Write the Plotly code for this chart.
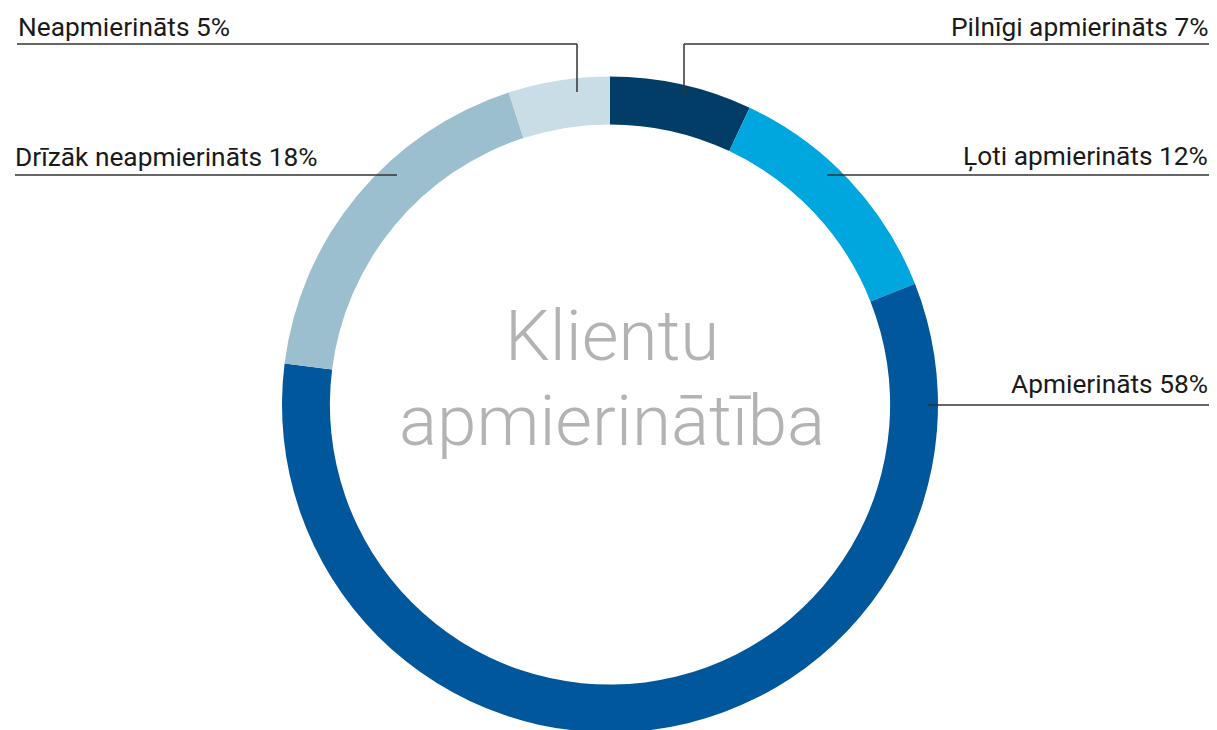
import plotly.graph_objects as go

# ---- data ----
categories = ["Pilnīgi apmierināts", "Ļoti apmierināts", "Apmierināts",
              "Drīzāk neapmierināts", "Neapmierināts"]
values = [7, 12, 58, 18, 5]
colors = ["#023d68", "#00a7df", "#00579c", "#9bbfcf", "#c9dde6"]
center_lines = ["Klientu", "apmierinātība"]

W, H = 1217, 730


def px(x):
    return x / W


def py(y):
    return 1 - y / H


fig = go.Figure()
fig.add_trace(go.Pie(
    labels=categories,
    values=values,
    marker=dict(colors=colors, line=dict(width=0)),
    hole=0.854,
    sort=False,
    direction="clockwise",
    rotation=0,
    textinfo="none",
    hoverinfo="label+percent",
    showlegend=False,
    domain=dict(x=[px(274), px(930)], y=[py(725), py(68)]),
))

label_font = dict(family="Roboto", size=26.3, color="#1a1a1a")

# label text, anchor side, text x, line y, gap above line, line x range, vertical drop end
labels_cfg = [
    (f"{categories[4]} {values[4]}%", "left", 8, 36, 0, (9, 569), 84),
    (f"{categories[3]} {values[3]}%", "left", 5, 167, 1, (7, 389), None),
    (f"{categories[0]} {values[0]}%", "right", 1202, 36, 0, (676, 1201), 87),
    (f"{categories[1]} {values[1]}%", "right", 1202, 167, 1, (819, 1201), None),
    (f"{categories[2]} {values[2]}%", "right", 1202, 397, 4, (920, 1201), None),
]

shapes = []
annotations = []
for text, side, tx, ly, gap, (x0, x1), drop in labels_cfg:
    annotations.append(dict(
        text=text, x=px(tx), y=py(ly - gap), xref="paper", yref="paper",
        xanchor=side, yanchor="bottom", showarrow=False, font=label_font,
    ))
    shapes.append(dict(type="line", xref="paper", yref="paper",
                       x0=px(x0), x1=px(x1), y0=py(ly), y1=py(ly),
                       line=dict(color="#333333", width=1.5)))
    if drop is not None:
        vx = x0 if side == "right" else x1
        shapes.append(dict(type="line", xref="paper", yref="paper",
                           x0=px(vx), x1=px(vx), y0=py(ly), y1=py(drop),
                           line=dict(color="#333333", width=1.5)))

center_font = dict(family="Roboto", size=71, color="#b3b3b3", weight=300)
annotations.append(dict(text=center_lines[0], x=px(604), y=py(328), xref="paper",
                        yref="paper", xanchor="center", yanchor="middle",
                        showarrow=False, font=center_font))
annotations.append(dict(text=center_lines[1], x=px(604), y=py(412), xref="paper",
                        yref="paper", xanchor="center", yanchor="middle",
                        showarrow=False, font=center_font))

fig.update_layout(
    width=W, height=H,
    margin=dict(l=0, r=0, t=0, b=0),
    paper_bgcolor="white", plot_bgcolor="white",
    shapes=shapes, annotations=annotations,
)

fig.write_html("out.html")
